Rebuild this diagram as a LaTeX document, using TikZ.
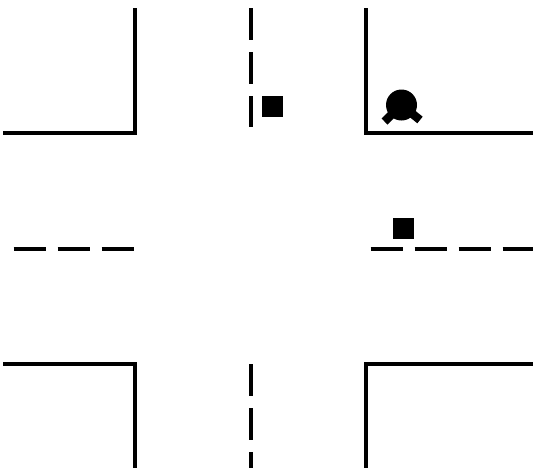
\documentclass[tikz,border=0pt]{standalone}
\begin{document}
\begin{tikzpicture}[
    x=1pt, y=-1pt,
    wall/.style={line width=4pt, line join=miter},
    lane/.style={line width=4pt, dash pattern=on 32pt off 12pt},
    block/.style={rectangle, fill=black, inner sep=0pt, minimum size=21pt},
    hub/.style={circle, fill=black, inner sep=0pt, minimum size=31pt},
    arm/.style={line width=8.5pt}
]
\useasboundingbox (0,0) rectangle (533,472);
% corners
\draw[wall] (3,132.5) -- (135,132.5) -- (135,8);
\draw[wall] (365.5,8) -- (365.5,133) -- (533,133);
\draw[wall] (3,363.7) -- (135.3,363.7) -- (135.3,468);
\draw[wall] (533,363.7) -- (366,363.7) -- (366,468);
% lane markings
\draw[lane] (250.5,8) -- (250.5,127);
\draw[lane] (250.5,364) -- (250.5,468);
\draw[lane] (13.5,249) -- (133.5,249);
\draw[lane] (370.7,248.7) -- (533,248.7);
% blocks
\node[block] (b0) at (272.5,106) {};
\node[block] (b1) at (403,228.5) {};
% robot
\node[hub] (r0) at (401.5,105) {};
\coordinate (r1) at (384.5,121.5);
\coordinate (r2) at (420,120);
\draw[arm] (r0.center) -- (r1);
\draw[arm] (r0.center) -- (r2);
\end{tikzpicture}
\end{document}
